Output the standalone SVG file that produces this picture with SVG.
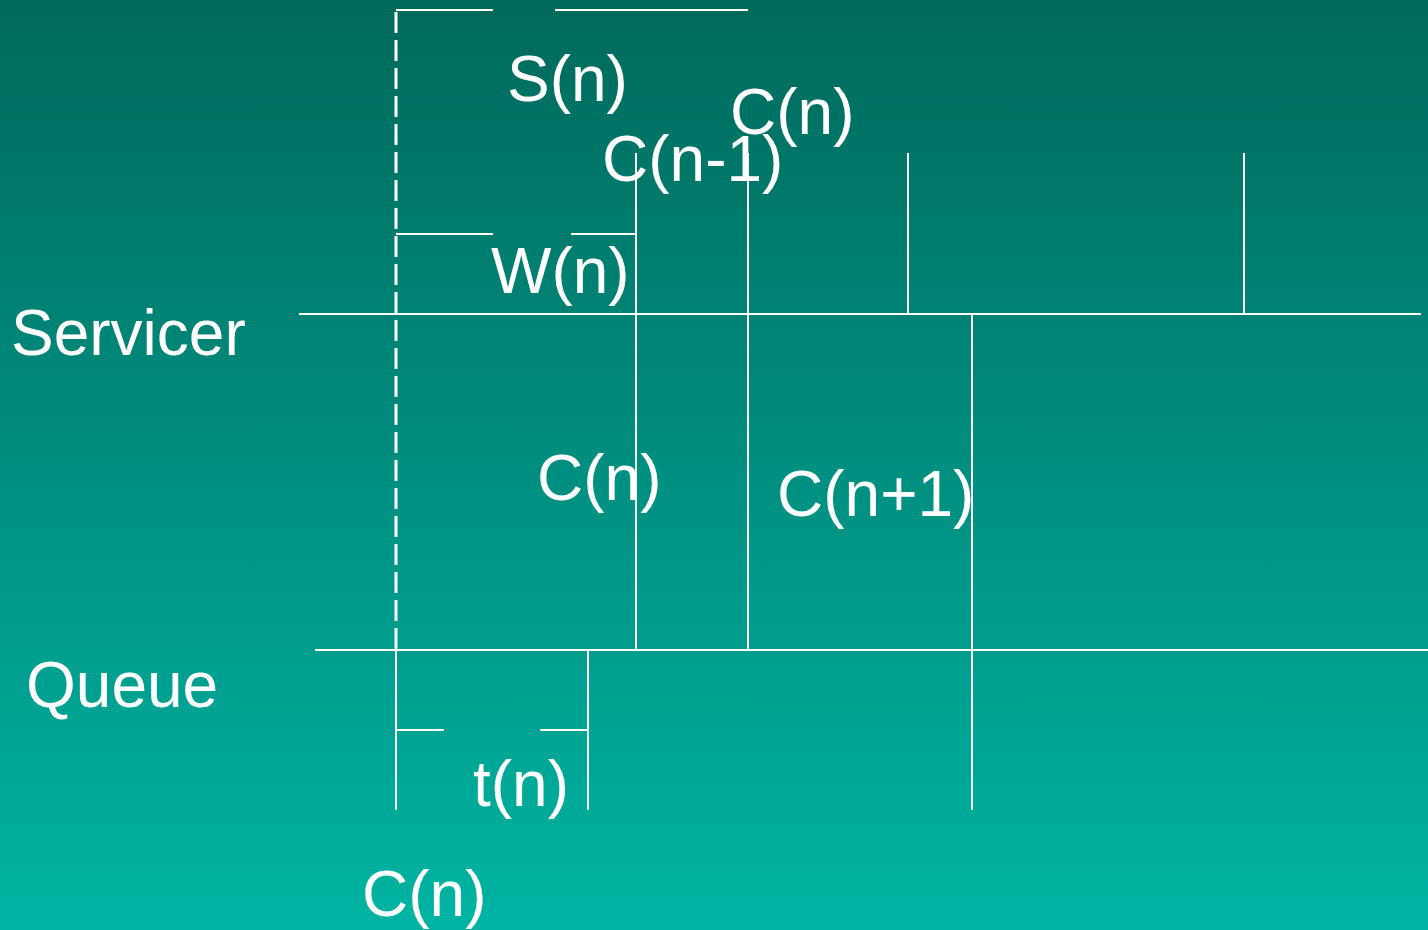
<svg xmlns="http://www.w3.org/2000/svg" width="1428" height="930" viewBox="0 0 1428 930">
<defs>
<linearGradient id="bg" x1="0" y1="0" x2="0" y2="1">
<stop offset="0" stop-color="#00695C"/>
<stop offset="1" stop-color="#00B4A3"/>
</linearGradient>
<style>
.l{stroke:#FFFFFF;stroke-width:2;fill:none}
.d{stroke:#FFFFFF;stroke-width:3;fill:none;stroke-dasharray:21 7}
.t{fill:#FFFFFF;font-family:"Liberation Sans",Arial,sans-serif;font-size:64px}
</style>
</defs>
<rect x="0" y="0" width="1428" height="930" fill="url(#bg)"/>
<g id="connectors">
<line class="d" x1="396" y1="12" x2="396" y2="650"/>
<line class="l" x1="396" y1="10" x2="493" y2="10"/>
<line class="l" x1="555" y1="10" x2="748" y2="10"/>
<line class="l" x1="396" y1="234" x2="493" y2="234"/>
<line class="l" x1="571" y1="234" x2="636" y2="234"/>
<line class="l" x1="299" y1="314" x2="1421" y2="314"/>
<line class="l" x1="315" y1="650" x2="1428" y2="650"/>
<line class="l" x1="636" y1="153" x2="636" y2="650"/>
<line class="l" x1="748" y1="153" x2="748" y2="650"/>
<line class="l" x1="908" y1="153" x2="908" y2="314"/>
<line class="l" x1="1244" y1="153" x2="1244" y2="314"/>
<line class="l" x1="972" y1="314" x2="972" y2="810"/>
<line class="l" x1="396" y1="650" x2="396" y2="810"/>
<line class="l" x1="588" y1="650" x2="588" y2="810"/>
<line class="l" x1="396" y1="730" x2="444" y2="730"/>
<line class="l" x1="540" y1="730" x2="588" y2="730"/>
</g>
<g id="label-servicer"><text class="t" x="11" y="355">Servicer</text></g>
<g id="label-queue"><text class="t" x="26" y="707">Queue</text></g>
<g id="label-sn"><text class="t" x="507" y="101">S(n)</text></g>
<g id="label-cn-top"><text class="t" x="730" y="134">C(n)</text></g>
<g id="label-cn-1"><text class="t" x="602" y="181">C(n-1)</text></g>
<g id="label-wn"><text class="t" x="491" y="293">W(n)</text></g>
<g id="label-cn-mid"><text class="t" x="537" y="500">C(n)</text></g>
<g id="label-cn+1"><text class="t" x="777" y="516">C(n+1)</text></g>
<g id="label-tn"><text class="t" x="473" y="806">t(n)</text></g>
<g id="label-cn-bottom"><text class="t" x="362" y="916">C(n)</text></g>
</svg>
